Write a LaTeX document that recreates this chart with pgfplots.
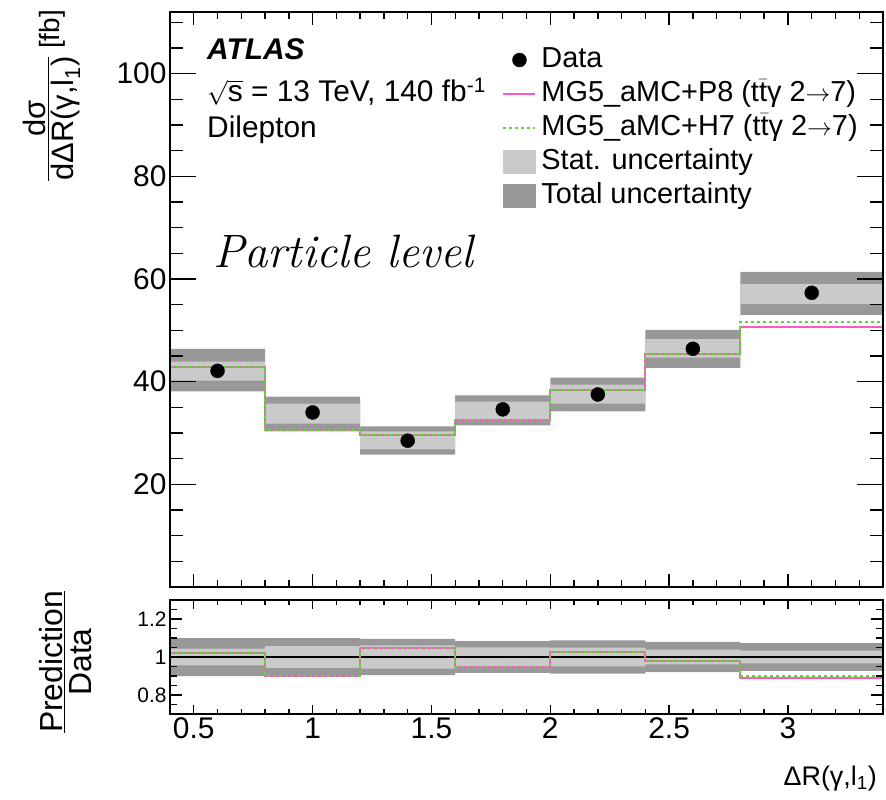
\documentclass[border=0pt]{standalone}
\usepackage{pgfplots}
\pgfplotsset{compat=1.18}
\usepgfplotslibrary{fillbetween}
\usepackage{pgfplotstable}
\usepackage{fontspec}
\setsansfont{Liberation Sans}
\renewcommand{\familydefault}{\sfdefault}
\definecolor{totgray}{RGB}{152,152,152}
\definecolor{statgray}{RGB}{202,202,202}
\definecolor{mcpink}{RGB}{255,85,205}
\definecolor{mcgreen}{RGB}{95,215,50}
\newcommand{\fsz}[1]{\fontsize{#1}{#1}\selectfont}
\setlength{\arrayrulewidth}{1.3bp}

\pgfplotstableread{
x totlo tothi statlo stathi p8 h7
0.4 38.1 46.4 40.2 43.9 42.9 42.9
0.8 30.3 37.1 31.8 35.7 30.5 30.5
1.2 25.8 31.3 26.8 30.3 29.7 29.7
1.6 31.5 37.3 32.6 36.1 32.6 32.6
2.0 34.2 40.8 35.7 39.4 38.3 38.3
2.4 42.7 50.1 44.7 48.3 45.4 45.4
2.8 53.0 61.4 55.1 59.0 50.7 51.7
3.4 53.0 61.4 55.1 59.0 50.7 51.7
}\maintab

\pgfplotstableread{
x y
0.6 42.1
1.0 34.0
1.4 28.5
1.8 34.6
2.2 37.5
2.6 46.4
3.1 57.3
}\datatab

\pgfplotstableread{
x totlo tothi statlo stathi p8 h7
0.4 0.900 1.100 0.956 1.044 1.020 1.020
0.8 0.900 1.100 0.943 1.057 0.900 0.900
1.2 0.904 1.096 0.939 1.061 1.047 1.047
1.6 0.916 1.084 0.949 1.051 0.950 0.950
2.0 0.912 1.088 0.951 1.049 1.026 1.026
2.4 0.920 1.080 0.961 1.039 0.980 0.980
2.8 0.927 1.073 0.966 1.034 0.890 0.900
3.4 0.927 1.073 0.966 1.034 0.890 0.900
}\ratiotab

\pgfplotsset{
  lgdata/.style={legend image code/.code={\path[draw=none,fill=none] (0bp,-12bp) rectangle (32bp,12bp); \fill[black] (16bp,0bp) circle[radius=7bp];}},
  lgpink/.style={legend image code/.code={\path[draw=none,fill=none] (0bp,-12bp) rectangle (32bp,12bp); \draw[mcpink, line width=2bp] (0bp,0bp) -- (32bp,0bp);}},
  lggreen/.style={legend image code/.code={\path[draw=none,fill=none] (0bp,-12bp) rectangle (32bp,12bp); \draw[mcgreen, line width=2bp, dash pattern=on 3bp off 3bp] (0bp,0bp) -- (32bp,0bp);}},
  lgstat/.style={legend image code/.code={\fill[statgray, draw=none] (0bp,-12bp) rectangle (33bp,12bp);}},
  lgtot/.style={legend image code/.code={\fill[totgray, draw=none] (0bp,-12bp) rectangle (33bp,12bp);}},
  commonax/.style={
    scale only axis, width=713bp, xmin=0.4, xmax=3.4,
    tick align=inside, tick pos=both, axis on top,
    axis line style={line width=1.6bp},
    every tick/.style={black, line width=1.4bp},
    /pgf/number format/assume math mode=true,
  },
}

\begin{document}
\begin{tikzpicture}
% ---------------- main panel: data and x ticks ----------------
\begin{axis}[commonax,
  at={(170bp,213bp)}, anchor=south west, height=575bp,
  ymin=0, ymax=112,
  xtick={0.5,1,...,3}, minor xtick={0.4,0.5,...,3.4}, xticklabels={},
  ytick=\empty,
  major tick length=13bp, minor tick length=7bp,
  legend style={at={(0.466,0.942)}, anchor=north west, draw=none, fill=none,
    font=\fsz{29pt}, row sep=5bp, inner sep=0pt, column sep=4bp,
    nodes={inner sep=1bp, text height=21bp, text depth=6bp}},
  legend cell align=left,
]
\addlegendimage{lgdata}
\addlegendentry{Data}
\addlegendimage{lgpink}
\addlegendentry{MG5\_aMC+P8 (t$\bar{\mbox{t}}$γ 2\mbox{$\rightarrow$}7)}
\addlegendimage{lggreen}
\addlegendentry{MG5\_aMC+H7 (t$\bar{\mbox{t}}$γ 2\mbox{$\rightarrow$}7)}
\addlegendimage{lgstat}
\addlegendentry{Stat. uncertainty}
\addlegendimage{lgtot}
\addlegendentry{Total uncertainty}

\addplot[const plot, draw=none, name path=tl, forget plot] table[x=x,y=totlo]{\maintab};
\addplot[const plot, draw=none, name path=th, forget plot] table[x=x,y=tothi]{\maintab};
\addplot[totgray, forget plot] fill between[of=tl and th];
\addplot[const plot, draw=none, name path=sl, forget plot] table[x=x,y=statlo]{\maintab};
\addplot[const plot, draw=none, name path=sh, forget plot] table[x=x,y=stathi]{\maintab};
\addplot[statgray, forget plot] fill between[of=sl and sh];
\addplot[const plot, mcpink, line width=2bp, forget plot] table[x=x,y=p8]{\maintab};
\addplot[const plot, mcgreen, line width=2bp, dash pattern=on 3bp off 3bp, forget plot] table[x=x,y=h7]{\maintab};
\addplot[only marks, mark=*, mark size=7bp, black, forget plot] table[x=x,y=y]{\datatab};
\end{axis}
% ---------------- main panel: y ticks ----------------
\begin{axis}[commonax,
  at={(170bp,213bp)}, anchor=south west, height=575bp,
  ymin=0, ymax=112,
  xtick=\empty,
  ytick={20,40,60,80,100}, minor ytick={0,5,...,110},
  major tick length=26bp, minor tick length=13bp,
  yticklabel style={font=\fsz{30pt}},
]
\end{axis}

% ---------------- ratio panel: bands and x ticks ----------------
\begin{axis}[commonax,
  at={(170bp,86bp)}, anchor=south west, height=114bp,
  ymin=0.7, ymax=1.3,
  xtick={0.5,1,...,3}, minor xtick={0.4,0.5,...,3.4},
  ytick=\empty,
  major tick length=9bp, minor tick length=5bp,
  xticklabel style={font=\fsz{30pt}},
]
\addplot[const plot, draw=none, name path=rtl] table[x=x,y=totlo]{\ratiotab};
\addplot[const plot, draw=none, name path=rth] table[x=x,y=tothi]{\ratiotab};
\addplot[totgray] fill between[of=rtl and rth];
\addplot[const plot, draw=none, name path=rsl] table[x=x,y=statlo]{\ratiotab};
\addplot[const plot, draw=none, name path=rsh] table[x=x,y=stathi]{\ratiotab};
\addplot[statgray] fill between[of=rsl and rsh];
\addplot[black, line width=1.6bp] coordinates {(0.4,1) (3.4,1)};
\addplot[const plot, mcpink, line width=2bp] table[x=x,y=p8]{\ratiotab};
\addplot[const plot, mcgreen, line width=2bp, dash pattern=on 3bp off 3bp] table[x=x,y=h7]{\ratiotab};
\end{axis}
% ---------------- ratio panel: y ticks ----------------
\begin{axis}[commonax,
  at={(170bp,86bp)}, anchor=south west, height=114bp,
  ymin=0.7, ymax=1.3,
  xtick=\empty,
  ytick={0.8,1,1.2}, minor ytick={0.7,0.75,...,1.3},
  major tick length=12bp, minor tick length=7bp,
  yticklabel style={font=\fsz{21pt}},
]
\end{axis}

% ---------------- texts ----------------
\node[anchor=base west, inner sep=0pt, font=\fsz{30pt}\bfseries\itshape] at (207bp,740bp) {ATLAS};
\node[anchor=base west, inner sep=0pt, font=\fsz{30pt}] at (207bp,698bp) {$\sqrt{\mbox{s}}$ = 13 TeV, 140 fb\textsuperscript{-1}};
\node[anchor=base west, inner sep=0pt, font=\fsz{30pt}] at (207bp,662bp) {Dilepton};
\node[anchor=base west, inner sep=0pt, font=\fsz{47pt}\rmfamily\itshape] at (213bp,532bp) {Particle level};

\node[rotate=90, anchor=east, inner sep=0pt, font=\fsz{28pt}] at (53bp,790bp)
  {{\fsz{31pt}\begin{tabular}{@{}c@{}}dσ\\[-7bp]\hline\rule{0pt}{25bp}dΔR(γ,l\textsubscript{1})\end{tabular}} [fb]};
\node[rotate=90, inner sep=0pt, font=\fsz{32pt}] at (70bp,138bp)
  {\begin{tabular}{@{}c@{}}Prediction\\[-8bp]\hline\rule{0pt}{26bp}Data\end{tabular}};
\node[anchor=base east, inner sep=0pt, font=\fsz{27pt}] at (877bp,15bp) {ΔR(γ,l\textsubscript{1})};
\pgfresetboundingbox
\path[use as bounding box] (0,0) rectangle (886bp,800bp);
\end{tikzpicture}
\end{document}
